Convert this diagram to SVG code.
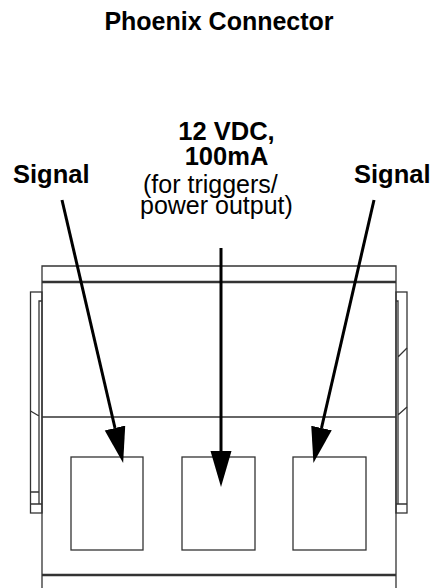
<svg xmlns="http://www.w3.org/2000/svg" width="435" height="588" viewBox="0 0 435 588">
<style>
.t{font-family:"Liberation Sans",Arial,sans-serif;fill:#000}
.b{font-weight:bold;font-size:25.5px}
.r{font-size:25px}
.thin{fill:none;stroke:#333;stroke-width:1.3}
.thick{fill:none;stroke:#333;stroke-width:2.4}
.arr{stroke:#000;stroke-width:3;fill:none}
</style>
<defs>
<marker id="ah" markerUnits="userSpaceOnUse" markerWidth="40" markerHeight="24" viewBox="0 -12 40 24" refX="0" refY="0" orient="auto">
<path d="M0,-10.5 L36,0 L0,10.5 z" fill="#000"/>
</marker>
</defs>
<rect width="435" height="588" fill="#fff"/>
<text class="t b" x="219" y="30" text-anchor="middle" style="font-size:25px">Phoenix Connector</text>
<g id="body">
<path class="thin" d="M42,588 V266 H396 V588"/>
<line class="thick" x1="42" y1="282" x2="396" y2="282"/>
<line class="thin" x1="42" y1="417" x2="396" y2="417"/>
<line class="thick" x1="42" y1="575" x2="396" y2="575"/>
</g>
<g id="left-bracket">
<rect class="thin" x="30.5" y="292" width="11.5" height="221"/>
<path class="thin" d="M42,301 H39 V504 M30.5,492 H39 M30.5,504 H42 M30.5,411 L39,416"/>
</g>
<g id="right-bracket">
<rect class="thin" x="396" y="292" width="11" height="221"/>
<path class="thin" d="M396,301 H398 V504 M396,504 H407 M398,357 L407,348 M398,415 L407,407"/>
</g>
<g id="pin-left"><rect class="thin" x="71" y="457" width="72" height="93"/></g>
<g id="pin-middle"><rect class="thin" x="182" y="457" width="73" height="93"/></g>
<g id="pin-right"><rect class="thin" x="293" y="457" width="73" height="93"/></g>
<g id="label-left"><text class="t b" x="13" y="183">Signal</text></g>
<g id="label-right"><text class="t b" x="354" y="183">Signal</text></g>
<g id="label-middle">
<text class="t b" x="226.5" y="140" text-anchor="middle">12 VDC,</text>
<text class="t b" x="226.5" y="165" text-anchor="middle">100mA</text>
<text class="t r" x="143" y="193">(for triggers/</text>
<text class="t r" x="140" y="213.5">power output)</text>
</g>
<g id="connectors">
<line class="arr" x1="62" y1="200" x2="115" y2="428" marker-end="url(#ah)"/>
<line class="arr" x1="221" y1="248" x2="221" y2="451" marker-end="url(#ah)"/>
<line class="arr" x1="374" y1="200" x2="321.5" y2="428" marker-end="url(#ah)"/>
</g>
</svg>
